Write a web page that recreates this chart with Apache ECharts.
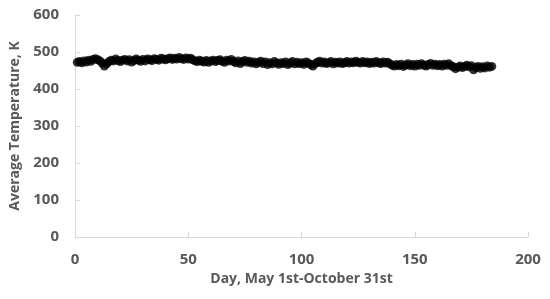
<!DOCTYPE html>
<html>
<head>
<meta charset="utf-8">
<script src="https://cdn.jsdelivr.net/npm/echarts@6/dist/echarts.min.js"></script>
<style>
  html, body { margin: 0; padding: 0; background: #fff; }
  #chart { width: 550px; height: 299px; }
</style>
</head>
<body>
<div id="chart"></div>
<script>
// average temperature per day, May 1st (day 1) to October 31st (day 184)
const temps = [
  472, 474, 471, 476, 473, 478, 475, 480, 482, 479,
  476, 470, 462, 468, 474, 478, 476, 481, 477, 474,
  478, 480, 476, 479, 473, 477, 481, 478, 475, 480,
  476, 481, 479, 477, 482, 480, 478, 483, 481, 479,
  482, 484, 480, 483, 481, 485, 482, 480, 484, 481,
  483, 479, 476, 474, 478, 475, 473, 477, 472, 476,
  478, 474, 477, 479, 475, 472, 478, 476, 480, 474,
  471, 476, 469, 474, 477, 472, 475, 470, 473, 468,
  472, 475, 469, 473, 466, 471, 468, 474, 470, 467,
  471, 469, 473, 466, 470, 474, 468, 472, 469, 471,
  467, 473, 470, 466, 462, 468, 472, 475, 470, 473,
  469, 471, 474, 468, 472, 470, 473, 469, 471, 474,
  470, 473, 471, 475, 472, 470, 474, 471, 473, 469,
  472, 470, 474, 471, 469, 473, 470, 472, 468, 465,
  462, 466, 463, 467, 461, 465, 468, 463, 466, 462,
  467, 464, 468, 465, 462, 466, 469, 464, 467, 463,
  466, 462, 467, 464, 468, 463, 460, 455, 459, 462,
  458, 461, 464, 460, 463, 452, 458, 461, 456, 460,
  457, 462, 459, 461
];
const days = temps.map((_, i) => i + 1);

const textColor = '#595959';
const lineColor = '#d9d9d9';
const font = '"Open Sans", sans-serif';

const chart = echarts.init(document.getElementById('chart'), null, { renderer: 'canvas' });

chart.setOption({
  animation: false,
  grid: { left: 72, right: 22, top: 15, bottom: 62 },
  xAxis: {
    type: 'value',
    min: 0,
    max: 200,
    interval: 50,
    name: 'Day, May 1st-October 31st',
    nameLocation: 'middle',
    nameGap: 35,
    nameTextStyle: { color: textColor, fontFamily: font, fontWeight: 'bold', fontSize: 14 },
    axisLine: { lineStyle: { color: lineColor } },
    axisTick: { inside: true, length: 5, lineStyle: { color: lineColor } },
    axisLabel: { color: textColor, fontFamily: font, fontWeight: 'bold', fontSize: 15, margin: 15 },
    splitLine: { show: false }
  },
  yAxis: {
    type: 'value',
    min: 0,
    max: 600,
    interval: 100,
    name: 'Average Temperature, K',
    nameLocation: 'middle',
    nameGap: 53,
    nameTextStyle: { color: textColor, fontFamily: font, fontWeight: 'bold', fontSize: 14 },
    axisLine: { show: true, lineStyle: { color: lineColor } },
    axisTick: { show: true, inside: true, length: 5, lineStyle: { color: lineColor } },
    axisLabel: { color: textColor, fontFamily: font, fontWeight: 'bold', fontSize: 15, margin: 16 },
    splitLine: { show: false }
  },
  series: [
    {
      type: 'scatter',
      data: days.map((d, i) => [d, temps[i]]),
      symbol: 'circle',
      symbolSize: 9,
      itemStyle: { color: '#000' }
    }
  ]
});
</script>
</body>
</html>
